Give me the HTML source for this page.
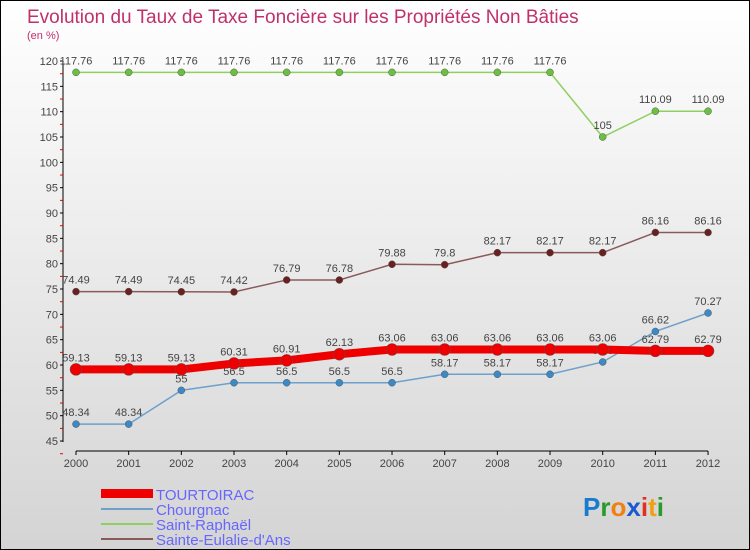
<!DOCTYPE html>
<html><head><meta charset="utf-8"><style>
body{margin:0}
#c{position:relative;width:748px;height:548px;border:1px solid #000;background:linear-gradient(#fff,#d4d4d4);font-family:"Liberation Sans",sans-serif;overflow:hidden}
</style></head><body>
<div id="c">
<svg id="s" width="748" height="548" style="position:absolute;left:0;top:0">
<text x="26" y="22" font-size="19" fill="#c0306a">Evolution du Taux de Taxe Foncière sur les Propriétés Non Bâties</text>
<text x="26" y="38" font-size="11" fill="#c0306a">(en %)</text>
<g id="axes"></g><g id="series"></g>
<g>
<rect x="100" y="488" width="52" height="9" fill="#e00"/>
<text x="155" y="499" font-size="15" fill="#66f">TOURTOIRAC</text>
<rect x="100" y="507" width="52" height="2" fill="#6fa0cc"/>
<text x="155" y="514" font-size="15" fill="#66f">Chourgnac</text>
<rect x="100" y="522" width="52" height="2" fill="#8ed060"/>
<text x="155" y="529" font-size="15" fill="#66f">Saint-Raphaël</text>
<rect x="100" y="537" width="52" height="2" fill="#8a5a5a"/>
<text x="155" y="544" font-size="15" fill="#66f">Sainte-Eulalie-d'Ans</text>
</g>
<text x="582" y="515" font-size="26" font-weight="bold"><tspan fill="#1a7ad0">P</tspan><tspan fill="#2a9a2a">r</tspan><tspan fill="#f08010">o</tspan><tspan fill="#1a5ad0">x</tspan><tspan fill="#e03020">i</tspan><tspan fill="#f0a010">t</tspan><tspan fill="#2a9a2a">i</tspan></text>
</svg>
</div>
<script>
const years=[2000,2001,2002,2003,2004,2005,2006,2007,2008,2009,2010,2011,2012];
const yTicks=[45,50,55,60,65,70,75,80,85,90,95,100,105,110,115,120];
const tourtoirac=[59.13,59.13,59.13,60.31,60.91,62.13,63.06,63.06,63.06,63.06,63.06,62.79,62.79];
const chourgnac=[48.34,48.34,55,56.5,56.5,56.5,56.5,58.17,58.17,58.17,60.6,66.62,70.27];
const saintRaphael=[117.76,117.76,117.76,117.76,117.76,117.76,117.76,117.76,117.76,117.76,105,110.09,110.09];
const sainteEulalie=[74.49,74.49,74.45,74.42,76.79,76.78,79.88,79.8,82.17,82.17,82.17,86.16,86.16];
const NS="http://www.w3.org/2000/svg";
const xS=i=>75+i*52.67;
const yS=v=>60+(120-v)*5.067;
function mk(t,a,p){const e=document.createElementNS(NS,t);for(const k in a)e.setAttribute(k,a[k]);p.appendChild(e);return e;}
const ax=document.getElementById('axes');
let l=mk('line',{x1:62,y1:60,x2:62,y2:441,stroke:'#000'},ax);


yTicks.forEach(v=>{mk('line',{x1:59,y1:yS(v),x2:62,y2:yS(v),stroke:'#000'},ax);
 mk('line',{x1:59,y1:yS(v)+12.7,x2:62,y2:yS(v)+12.7,stroke:'#e00'},ax);
 const t=mk('text',{x:57,y:yS(v)+4,'font-size':11,fill:'#444','text-anchor':'end'},ax);t.textContent=v;
 
 });
l=mk('line',{x1:75,y1:450,x2:707,y2:450,stroke:'#000'},ax);


years.forEach((y,i)=>{mk('line',{x1:xS(i),y1:450,x2:xS(i),y2:454,stroke:'#000'},ax);
 const t=mk('text',{x:xS(i),y:466,'font-size':11,fill:'#444','text-anchor':'middle'},ax);t.textContent=y;
 
 });
const sg=document.getElementById('series');
function draw(name,data,color,w,r,dot){
 const g=mk('g',{},sg);
 
 
 mk('polyline',{points:data.map((v,i)=>xS(i)+','+yS(v)).join(' '),fill:'none',stroke:color,'stroke-width':w},g);
 data.forEach((v,i)=>{const c=mk('circle',{cx:xS(i),cy:yS(v),r:r,fill:dot,stroke:'#555','stroke-width':0.5},g);
  
  
  const t=mk('text',{x:xS(i),y:yS(v)-8,'font-size':11,fill:'#444','text-anchor':'middle'},g);t.textContent=v;
  
  });
}
draw('saint-raphael',saintRaphael,'#8ed060',1.5,3.5,'#6cc040');
draw('sainte-eulalie',sainteEulalie,'#8a5a5a',1.5,3.5,'#6a2020');
draw('chourgnac',chourgnac,'#6fa0cc',1.5,3.5,'#3a8ac8');
draw('tourtoirac',tourtoirac,'#e00',8,6,'#e00');
</script>
</body></html>
